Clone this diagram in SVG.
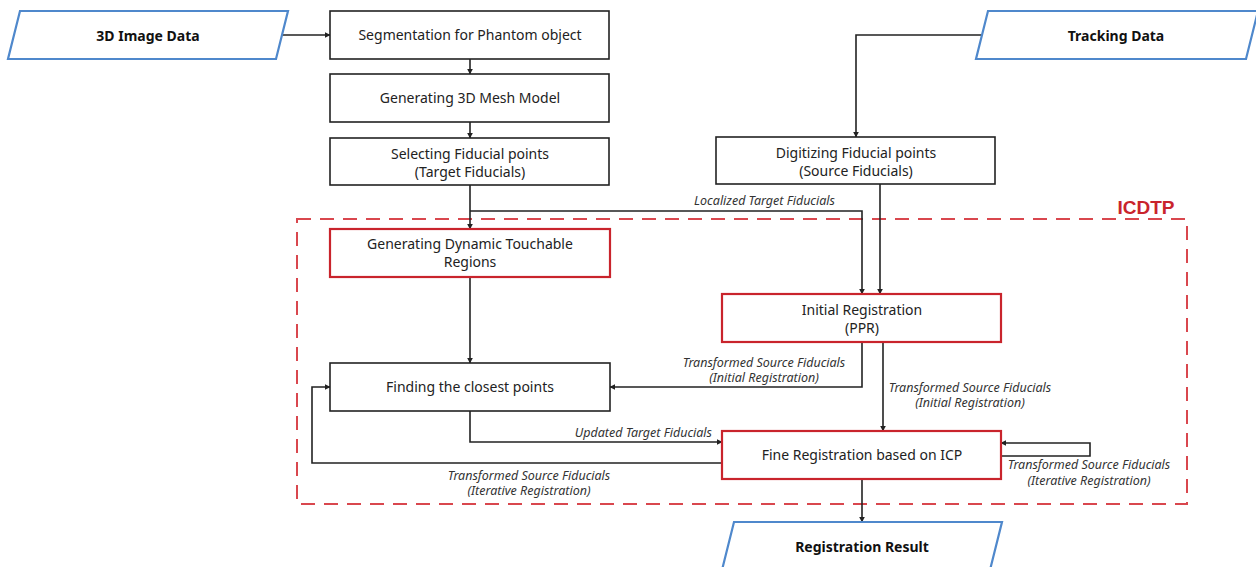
<svg xmlns="http://www.w3.org/2000/svg" width="1256" height="567" viewBox="0 0 1256 567">
  <style>
    .box { fill: #fff; stroke: #222; stroke-width: 1.6; }
    .rbox { fill: #fff; stroke: #c9242c; stroke-width: 2.2; }
    .io { fill: #fff; stroke: #4f88cc; stroke-width: 2.2; }
    .t { font-family: "Noto Sans", "Open Sans", sans-serif; font-size: 14px; fill: #222; text-anchor: middle; }
    .tb { font-family: "Noto Sans", "Open Sans", sans-serif; font-size: 14px; font-weight: bold; fill: #111; text-anchor: middle; }
    .lbl { font-family: "Noto Sans", "Open Sans", sans-serif; font-size: 12.5px; font-style: italic; fill: #333; text-anchor: middle; }
    .lbl.end { text-anchor: end; }
    .wire { fill: none; stroke: #222; stroke-width: 1.6; }
    .arr { fill: none; stroke: #222; stroke-width: 1.6; marker-end: url(#ah); }
    .zone { fill: none; stroke: #d9474e; stroke-width: 2; stroke-dasharray: 14 9; }
  </style>
  <defs>
    <marker id="ah" viewBox="0 0 10 10" refX="9" refY="5" markerWidth="6" markerHeight="6" markerUnits="userSpaceOnUse" orient="auto">
      <path d="M0,0 L10,5 L0,10 z" fill="#222"/>
    </marker>
  </defs>

  <!-- ICDTP region -->
  <g id="icdtp">
    <rect class="zone" x="297" y="219" width="890" height="285"/>
    <text x="1146" y="214" font-family="'Liberation Sans', Arial, sans-serif" font-size="19" font-weight="bold" fill="#c9242c" text-anchor="middle">ICDTP</text>
  </g>

  <!-- connectors -->
  <g id="connectors">
    <path class="arr" d="M282,35 H330"/>
    <path class="arr" d="M982,35 H856 V137"/>
    <path class="arr" d="M470,59 V74"/>
    <path class="arr" d="M470,122 V138"/>
    <path class="arr" d="M470,185 V229"/>
    <path class="arr" d="M470,211 H862 V294"/>
    <path class="arr" d="M880,184 V294"/>
    <path class="arr" d="M470,277 V363"/>
    <path class="arr" d="M862,342 V387 H610"/>
    <path class="arr" d="M883,342 V431"/>
    <path class="arr" d="M470,411 V442 H722"/>
    <path class="arr" d="M722,463 H312 V387 H330"/>
    <path class="arr" d="M1001,456 H1090 V443 H1001"/>
    <path class="arr" d="M862,479 V522"/>

    <text class="lbl end" x="835" y="205">Localized Target Fiducials</text>
    <text class="lbl" x="764" y="367">Transformed Source Fiducials</text>
    <text class="lbl" x="764" y="382">(Initial Registration)</text>
    <text class="lbl" x="970" y="392">Transformed Source Fiducials</text>
    <text class="lbl" x="970" y="407">(Initial Registration)</text>
    <text class="lbl end" x="712" y="437">Updated Target Fiducials</text>
    <text class="lbl" x="529" y="480">Transformed Source Fiducials</text>
    <text class="lbl" x="529" y="495">(Iterative Registration)</text>
    <text class="lbl" x="1089" y="469">Transformed Source Fiducials</text>
    <text class="lbl" x="1089" y="485">(Iterative Registration)</text>
  </g>

  <!-- inputs / outputs -->
  <g id="image-data">
    <polygon class="io" points="20,11 288,11 276,59 8,59"/>
    <text class="tb" x="148" y="41">3D Image Data</text>
  </g>
  <g id="tracking-data">
    <polygon class="io" points="988,11 1258,11 1246,59 976,59"/>
    <text class="tb" x="1116" y="41">Tracking Data</text>
  </g>
  <g id="registration-result">
    <polygon class="io" points="734,522 1002,522 990,570 722,570"/>
    <text class="tb" x="862" y="552">Registration Result</text>
  </g>

  <!-- process steps -->
  <g id="segmentation">
    <rect class="box" x="330" y="11" width="279" height="48"/>
    <text class="t" x="470" y="40">Segmentation for Phantom object</text>
  </g>
  <g id="mesh-model">
    <rect class="box" x="330" y="74" width="279" height="48"/>
    <text class="t" x="470" y="103">Generating 3D Mesh Model</text>
  </g>
  <g id="target-fiducials">
    <rect class="box" x="330" y="138" width="279" height="47"/>
    <text class="t" x="470" y="159">Selecting Fiducial points</text>
    <text class="t" x="470" y="177">(Target Fiducials)</text>
  </g>
  <g id="source-fiducials">
    <rect class="box" x="716" y="137" width="279" height="47"/>
    <text class="t" x="856" y="158">Digitizing Fiducial points</text>
    <text class="t" x="856" y="176">(Source Fiducials)</text>
  </g>
  <g id="touchable-regions">
    <rect class="rbox" x="330" y="229" width="280" height="48"/>
    <text class="t" x="470" y="249">Generating Dynamic Touchable</text>
    <text class="t" x="470" y="267">Regions</text>
  </g>
  <g id="initial-registration">
    <rect class="rbox" x="722" y="294" width="279" height="48"/>
    <text class="t" x="862" y="315">Initial Registration</text>
    <text class="t" x="862" y="333">(PPR)</text>
  </g>
  <g id="closest-points">
    <rect class="box" x="330" y="363" width="280" height="48"/>
    <text class="t" x="470" y="392">Finding the closest points</text>
  </g>
  <g id="fine-registration">
    <rect class="rbox" x="722" y="431" width="279" height="48"/>
    <text class="t" x="862" y="460">Fine Registration based on ICP</text>
  </g>
</svg>
